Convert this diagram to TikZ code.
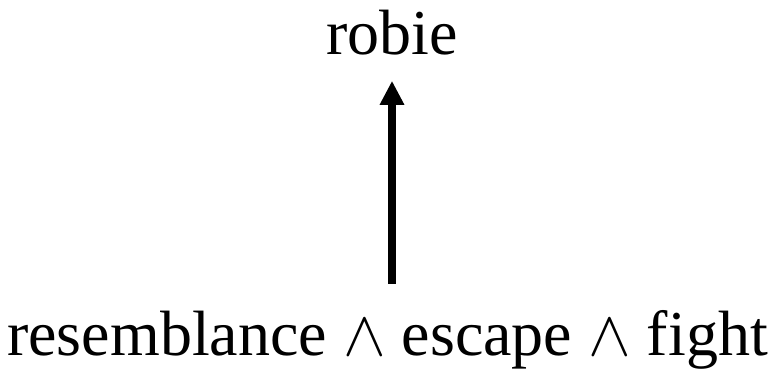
\RequirePackage{fix-cm}
\documentclass[tikz,border=0pt]{standalone}
\usepackage{fontspec}
\setmainfont{Liberation Serif}
\usepackage{tikz}
\usetikzlibrary{arrows.meta, positioning}
\tikzset{
  term/.style={inner sep=0pt, anchor=base, font=\fontsize{64}{76}\selectfont},
  ar/.style={-{Triangle[length=24pt, width=23pt]}, line width=8pt, draw=black}
}

\begin{document}
\begin{tikzpicture}[x=1pt, y=1pt]
    \useasboundingbox (0,0) rectangle (775,370);
    \node[term] (goal) at (392,315) {robie};
    \node[term] (cause) at (387.5,15) {resemblance $\wedge$ escape $\wedge$ fight};
    \draw[ar, shorten <=26pt, shorten >=25pt] (goal.south |- cause.north) -- (goal.south);
  \end{tikzpicture}
\end{document}
